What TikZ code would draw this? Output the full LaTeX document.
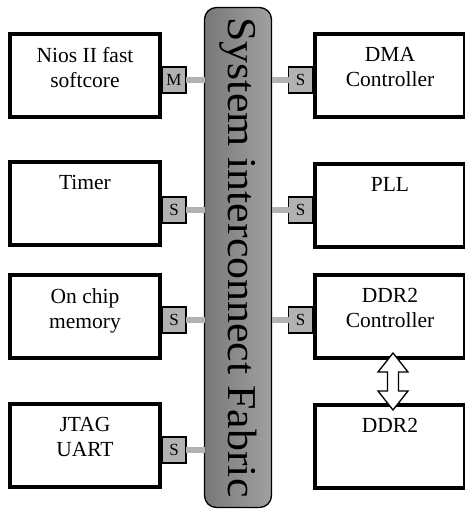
\documentclass[tikz,border=0pt]{standalone}
\usepackage{fontspec}
\setmainfont{Liberation Serif}
\usetikzlibrary{positioning,calc}
\tikzset{
  box/.style={draw=black, line width=4pt, fill=white, minimum width=150pt, minimum height=83pt, inner sep=0pt, outer sep=0pt, anchor=north west},
  boxtext/.style={font=\rmfamily\fontsize{21.5}{25}\selectfont, align=center, inner sep=0pt, anchor=north},
  port/.style={draw=black, line width=1.3pt, fill=black!30, minimum width=24pt, minimum height=26pt, inner sep=0pt, outer sep=0pt, font=\rmfamily\fontsize{17}{20}\selectfont},
  link/.style={draw=black!30, line width=6pt},
  busbox/.style={draw=black, line width=1.3pt, rounded corners=12pt, left color=black!53, right color=black!37, minimum width=67pt, minimum height=500pt, inner sep=0pt, outer sep=0pt},
  bustext/.style={font=\rmfamily\fontsize{41}{41}\selectfont, rotate=-90, inner sep=0pt},
  dblarrowline/.style={draw=black, line width=1.3pt, fill=white, line join=miter},
}
\begin{document}
\begin{tikzpicture}[x=1pt,y=-1pt]
\useasboundingbox (0,0) rectangle (464,510);
% bus
\node[busbox] (bus) at (238,257.5) {};
\node[bustext] (bustxt) at (bus.center) {\scalebox{1.07}[1]{System interconnect Fabric}};
% left boxes
\node[box] (nios) at (10,34) {};
\node[box] (timer) at (10,162) {};
\node[box] (onchip) at (10,275) {};
\node[box] (jtag) at (10,404) {};
% right boxes
\node[box] (dma) at (315,34) {};
\node[box] (pll) at (315,164) {};
\node[box] (ddrc) at (315,275) {};
\node[box] (ddr) at (315,405) {};
% texts
\node[boxtext] (niost) at ($(nios.north)+(0,13)$) {Nios II fast\\softcore};
\node[boxtext] (timert) at ($(timer.north)+(0,13)$) {Timer};
\node[boxtext] (onchipt) at ($(onchip.north)+(0,13)$) {On chip\\memory};
\node[boxtext] (jtagt) at ($(jtag.north)+(0,13)$) {JTAG\\UART};
\node[boxtext] (dmat) at ($(dma.north)+(0,13)$) {DMA\\Controller};
\node[boxtext] (pllt) at ($(pll.north)+(0,13)$) {PLL};
\node[boxtext] (ddrct) at ($(ddrc.north)+(0,13)$) {DDR2\\Controller};
\node[boxtext] (ddrt) at ($(ddr.north)+(0,13)$) {DDR2};
% ports
\node[port] (pn) at (174,80) {M};
\node[port] (pt) at (174,210) {S};
\node[port] (po) at (174,320) {S};
\node[port] (pj) at (174,450) {S};
\node[port] (pd) at (300.5,80) {S};
\node[port] (pp) at (300.5,210) {S};
\node[port] (pc) at (300.5,320) {S};
% links
\draw[link] (pn.east) -- (pn.east -| bus.west);
\draw[link] (pt.east) -- (pt.east -| bus.west);
\draw[link] (po.east) -- (po.east -| bus.west);
\draw[link] (pj.east) -- (pj.east -| bus.west);
\draw[link] (pd.west) -- (pd.west -| bus.east);
\draw[link] (pp.west) -- (pp.west -| bus.east);
\draw[link] (pc.west) -- (pc.west -| bus.east);
% double arrow between DDR2 controller and DDR2
\coordinate (m) at ($($(ddrc.south)!0.5!(ddr.north)$)+(3,0)$);
\draw[dblarrowline, shift={(m)}] (0,-28.5) -- (15,-9.5) -- (5.5,-9.5) -- (5.5,9.5) -- (15,9.5)
  -- (0,28.5) -- (-15,9.5) -- (-5.5,9.5) -- (-5.5,-9.5) -- (-15,-9.5) -- cycle;
\end{tikzpicture}
\end{document}
